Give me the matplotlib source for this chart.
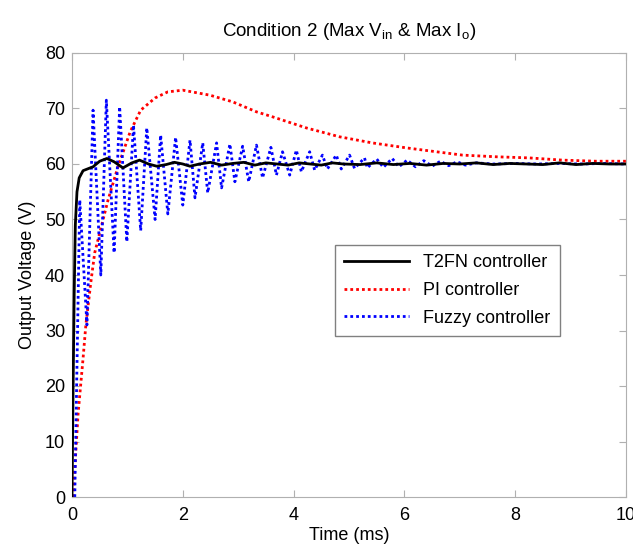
import numpy as np
import matplotlib.pyplot as plt

plt.rcParams['font.family'] = ['Liberation Sans', 'DejaVu Sans']
plt.rcParams['mathtext.default'] = 'regular'

# T2FN controller (time in ms, voltage in V)
t2fn_t = [0.0, 0.02, 0.04, 0.06, 0.09, 0.13, 0.2, 0.38, 0.5, 0.63, 0.76, 0.92,
          1.08, 1.22, 1.38, 1.53, 1.7, 1.85, 2.0, 2.13, 2.3, 2.5, 2.7, 2.9,
          3.1, 3.3, 3.5, 3.7, 3.9, 4.1, 4.3, 4.5, 4.7, 4.9, 5.2, 5.5, 5.8,
          6.1, 6.4, 6.7, 7.0, 7.3, 7.6, 7.9, 8.2, 8.5, 8.8, 9.1, 9.4, 9.7, 10.0]
t2fn_v = [0.0, 20.0, 37.0, 49.0, 55.0, 57.5, 58.8, 59.5, 60.5, 61.0, 60.4, 59.3,
          60.2, 60.7, 60.0, 59.6, 59.9, 60.3, 60.0, 59.6, 60.0, 60.3, 59.8, 60.1,
          60.3, 59.8, 60.2, 60.0, 59.8, 60.2, 60.0, 59.8, 60.2, 60.0, 59.9, 60.2,
          59.9, 60.1, 59.8, 60.1, 60.0, 60.2, 59.9, 60.1, 60.0, 59.9, 60.2, 59.9,
          60.1, 60.0, 60.0]

# PI controller
pi_t = [0.02, 0.11, 0.2, 0.25, 0.34, 0.41, 0.65, 0.83, 1.05, 1.24, 1.5, 1.73,
        2.0, 2.49, 2.9, 3.33, 3.62, 4.23, 4.83, 5.42, 6.04, 6.58, 7.05, 7.66,
        8.25, 8.85, 9.46, 10.0]
pi_v = [0.0, 15.0, 25.0, 31.0, 38.7, 44.0, 53.5, 59.5, 65.8, 69.7, 71.9, 73.0,
        73.3, 72.4, 71.2, 69.4, 68.5, 66.5, 64.9, 63.8, 62.9, 62.2, 61.6, 61.3,
        61.1, 60.7, 60.5, 60.5]

# Fuzzy controller (peaks and troughs of the oscillation)
fuzzy_t = [0.05, 0.14, 0.27, 0.38, 0.52, 0.62, 0.76, 0.86, 0.99, 1.11, 1.24,
           1.35, 1.5, 1.6, 1.73, 1.87, 2.0, 2.13, 2.22, 2.36, 2.45, 2.61, 2.7,
           2.85, 2.94, 3.08, 3.19, 3.33, 3.44, 3.59, 3.69, 3.8, 3.93, 4.05,
           4.14, 4.29, 4.38, 4.52, 4.61, 4.77, 4.86, 5.01, 5.1, 5.28, 5.33,
           5.5, 5.62, 5.78, 5.9, 6.05, 6.2, 6.35, 6.5, 6.65, 6.8, 6.95, 7.1,
           7.3, 7.6, 8.0, 8.4, 8.8, 9.2, 9.6, 10.0]
fuzzy_v = [0.0, 53.5, 31.0, 69.7, 40.0, 71.5, 44.0, 70.3, 46.0, 67.0, 48.0,
           66.5, 50.0, 65.2, 51.0, 64.8, 52.6, 64.3, 53.9, 63.8, 54.8, 63.8, 55.7,
           63.6, 56.8, 63.2, 56.8, 63.4, 57.5, 63.0, 58.0, 62.2, 58.0, 62.5,
           58.6, 62.2, 58.9, 61.6, 59.1, 61.6, 59.1, 61.6, 59.2, 61.1, 59.3,
           60.9, 59.4, 61.0, 59.5, 60.7, 59.5, 60.6, 59.6, 60.5, 59.7, 60.4, 59.8,
           60.2, 60.0, 60.1, 60.0, 60.1, 60.0, 60.1, 60.0]

fig = plt.figure(figsize=(6.33, 5.54), dpi=100)
ax = fig.add_axes([72 / 633, 57 / 554, 554 / 633, 444 / 554])

ax.plot(t2fn_t, t2fn_v, color='black', lw=2.0, label='T2FN controller', zorder=3)
ax.plot(pi_t, pi_v, color='red', lw=2.0, dashes=(1, 1.1), label='PI controller')
ax.plot(fuzzy_t, fuzzy_v, color='blue', lw=2.0, dashes=(1, 1.1),
        label='Fuzzy controller')

ax.set_xlim(0, 10)
ax.set_ylim(0, 80)
ax.set_xticks(np.arange(0, 11, 2))
ax.set_yticks(np.arange(0, 81, 10))
ax.tick_params(direction='in', top=True, right=True, labelsize=13,
               color='#b0b0b0', length=5)
ax.tick_params(axis='x', pad=7)
ax.tick_params(axis='y', pad=5)
for s in ax.spines.values():
    s.set_color('#b0b0b0')

ax.set_xlabel('Time (ms)', fontsize=13, labelpad=2)
ax.set_ylabel('Output Voltage (V)', fontsize=13, labelpad=6)
ax.set_title(r'Condition 2 (Max V$_{in}$ & Max I$_{o}$)', fontsize=13.5, pad=12)

leg = ax.legend(loc='upper left', bbox_to_anchor=(263 / 554, 1 - 192 / 444),
                fontsize=13, handlelength=3.6, borderpad=0.5, labelspacing=0.6,
                fancybox=False, framealpha=1, borderaxespad=0)
leg.get_frame().set_edgecolor('#808080')
leg.get_frame().set_linewidth(1.0)

fig.savefig('out.png', dpi=100)
